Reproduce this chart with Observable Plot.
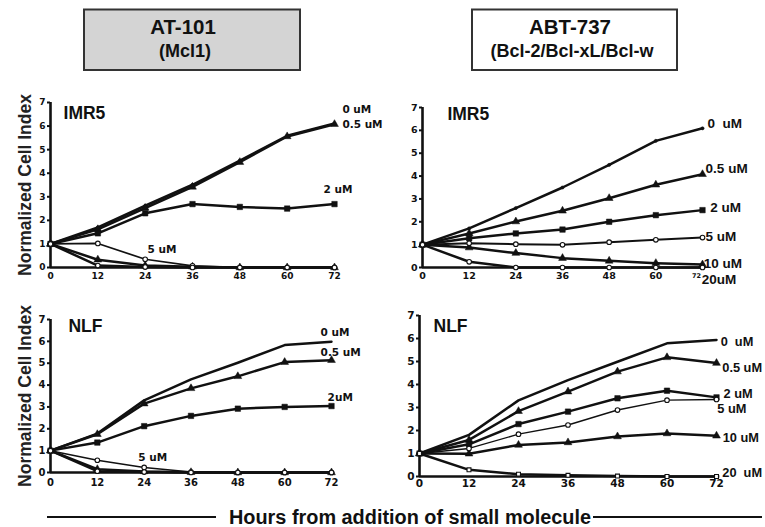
<!DOCTYPE html>
<html>
<head>
<meta charset="utf-8">
<script src="https://cdn.jsdelivr.net/npm/d3@7"></script>
<script src="https://cdn.jsdelivr.net/npm/@observablehq/plot@0.6"></script>
<style>
  body { margin: 0; background: #fff; }
  #root { position: relative; width: 765px; height: 527px; background: #fff; overflow: hidden; }
  .panel { position: absolute; }
  .panel svg { overflow: visible; }
  .panel svg text { white-space: pre; }
  #overlay { position: absolute; left: 0; top: 0; }
</style>
</head>
<body>
<div id="root"></div>
<script>
// ---------------- data ----------------
const hours = [0, 12, 24, 36, 48, 60, 72];
const doses = ["0 uM", "0.5 uM", "2 uM", "5 uM", "10 uM", "20 uM"];
const yTicks = [0, 1, 2, 3, 4, 5, 6, 7];
const xTicks = [0, 12, 24, 36, 48, 60, 72];

const drugNames = ["AT-101", "ABT-737"];
const drugTargets = ["(Mcl1)", "(Bcl-2/Bcl-xL/Bcl-w"];
const cellLines = ["IMR5", "NLF"];
const yTitle = "Normalized Cell Index";
const xTitle = "Hours from addition of small molecule";

// AT-101, IMR5 (rows follow doses)
const at101Imr5 = [
  [1, 1.70, 2.62, 3.51, 4.53, 5.59, 6.11],
  [1, 1.62, 2.52, 3.42, 4.47, 5.56, 6.08],
  [1, 1.45, 2.30, 2.69, 2.57, 2.50, 2.69],
  [1, 1.02, 0.35, 0.07, 0.00, 0.00, 0.00],
  [1, 0.33, 0.08, 0.03, 0.00, 0.00, 0.00],
  [1, 0.08, 0.02, 0.00, 0.00, 0.00, 0.00]
];
// ABT-737, IMR5
const abt737Imr5 = [
  [1, 1.71, 2.60, 3.50, 4.49, 5.54, 6.09],
  [1, 1.49, 2.01, 2.48, 3.03, 3.62, 4.08],
  [1, 1.28, 1.49, 1.66, 2.00, 2.29, 2.51],
  [1, 1.06, 1.02, 0.99, 1.11, 1.21, 1.31],
  [1, 0.87, 0.63, 0.41, 0.29, 0.19, 0.13],
  [1, 0.25, 0.00, 0.00, 0.00, 0.00, 0.00]
];
// AT-101, NLF
const at101Nlf = [
  [1, 1.78, 3.30, 4.26, 5.02, 5.83, 5.98],
  [1, 1.75, 3.15, 3.85, 4.40, 5.05, 5.14],
  [1, 1.37, 2.12, 2.59, 2.92, 3.00, 3.04],
  [1, 0.56, 0.23, 0.02, 0.00, 0.00, 0.00],
  [1, 0.15, 0.05, 0.01, 0.00, 0.00, 0.00],
  [1, 0.06, 0.02, 0.00, 0.00, 0.00, 0.00]
];
// ABT-737, NLF
const abt737Nlf = [
  [1, 1.81, 3.31, 4.19, 4.99, 5.79, 5.94],
  [1, 1.59, 2.84, 3.69, 4.56, 5.18, 4.93],
  [1, 1.40, 2.28, 2.82, 3.40, 3.73, 3.44],
  [1, 1.22, 1.84, 2.24, 2.89, 3.32, 3.35],
  [1, 0.99, 1.37, 1.48, 1.74, 1.87, 1.77],
  [1, 0.29, 0.10, 0.05, 0.02, 0.00, 0.00]
];

// curve labels as printed next to the lines
const at101Imr5Labels = ["0 uM", "0.5 uM", "2 uM", "5 uM"];
const abt737Imr5Labels = ["0  uM", "0.5 uM", "2 uM", "5 uM", "10 uM", "20uM"];
const at101NlfLabels = ["0 uM", "0.5 uM", "2uM", "5 uM"];
const abt737NlfLabels = ["0  uM", "0.5 uM", "2 uM", "5 uM", "10 uM", "20  uM"];

// ---------------- drawing ----------------
const root = document.getElementById("root");

function toRows(values) {
  const rows = [];
  values.forEach((vals, i) => vals.forEach((v, j) => rows.push({dose: doses[i], hour: hours[j], value: v})));
  return rows;
}

const markerStyle = {
  "0 uM":   {symbol: "circle",   r: 1.6, fill: "#111"},
  "0.5 uM": {symbol: "triangle", r: 2.9, fill: "#111"},
  "2 uM":   {symbol: "square",   r: 3.1, fill: "#111"},
  "5 uM":   {symbol: "circle",   r: 2.3, fill: "#fff"},
  "10 uM":  {symbol: "triangle", r: 2.9, fill: "#111"},
  "20 uM":  {symbol: "circle",   r: 2.3, fill: "#fff"}
};

function panel(cfg) {
  const rows = toRows(cfg.values);
  const marks = [];
  // axes
  marks.push(Plot.ruleY([0], {x1: 0, x2: 72.8, stroke: "#111", strokeWidth: 2.6}));
  marks.push(Plot.ruleX([0], {y1: 0, y2: 7, stroke: "#111", strokeWidth: 2.6}));
  marks.push(Plot.axisY({ticks: yTicks, tickSize: 3, tickPadding: 2, strokeWidth: 2, fontSize: cfg.tickFont, tickFormat: d => String(d)}));
  marks.push(Plot.axisX({ticks: cfg.xTicks, tickSize: 0, tickPadding: cfg.xPad, fontSize: cfg.tickFont, tickFormat: d => String(d)}));
  if (cfg.tinyLast) {
    marks.push(Plot.axisX({ticks: [72], tickSize: 0, tickPadding: cfg.xPad + 1, fontSize: 6.5, dx: -6, tickFormat: d => String(d)}));
  }
  // lines
  doses.forEach(d => {
    marks.push(Plot.line(rows.filter(r => r.dose === d), {
      x: "hour", y: "value", stroke: "#111",
      strokeWidth: d === "5 uM" ? cfg.thin : 2.5
    }));
  });
  // markers: filled first, open last
  const order = doses.filter(d => markerStyle[d].fill !== "#fff").concat(doses.filter(d => markerStyle[d].fill === "#fff"));
  order.forEach(d => {
    if (d === "0 uM" && !cfg.smallDots) return;
    const m = Object.assign({}, markerStyle[d], cfg.markerOverride && cfg.markerOverride[d] || {});
    marks.push(Plot.dot(rows.filter(r => r.dose === d), {
      x: "hour", y: "value", symbol: m.symbol, r: m.r, fill: m.fill, stroke: "#111", strokeWidth: m.fill === "#fff" ? 1.1 : 0.5
    }));
  });
  // curve labels
  marks.push(Plot.text(cfg.labels.map((t, i) => ({t, x: cfg.labelPos[i][0], y: cfg.labelPos[i][1]})), {
    x: "x", y: "y", text: "t", textAnchor: "start", lineAnchor: "middle",
    fontSize: cfg.labelFont, fontFamily: cfg.labelFamily, fontWeight: "bold", fill: "#111"
  }));
  // cell line title
  marks.push(Plot.text([{t: cfg.title, x: cfg.titlePos[0], y: cfg.titlePos[1]}], {
    x: "x", y: "y", text: "t", textAnchor: "start", lineAnchor: "middle",
    fontSize: 17.5, fontFamily: "Liberation Sans", fontWeight: "bold", fill: "#111"
  }));
  if (cfg.yTitle) {
    marks.push(Plot.text([yTitle], {
      frameAnchor: "left", dx: -25, rotate: -90, textAnchor: "middle", lineAnchor: "middle",
      fontSize: 17.5, fontFamily: "Liberation Sans", fontWeight: "bold", fill: "#222"
    }));
  }
  const svg = Plot.plot({
    width: cfg.W, height: cfg.H,
    marginLeft: cfg.mL, marginRight: cfg.mR, marginTop: cfg.mT, marginBottom: cfg.mB,
    x: {domain: [0, 72]},
    y: {domain: [0, 7]},
    style: {fontFamily: "DejaVu Sans", fontWeight: "bold", fontSize: cfg.tickFont + "px", color: "#111", background: "transparent", overflow: "visible"},
    marks
  });
  const div = document.createElement("div");
  div.className = "panel";
  div.style.left = cfg.L + "px";
  div.style.top = cfg.T + "px";
  div.appendChild(svg);
  root.appendChild(div);
}

panel({
  values: at101Imr5, L: 0, T: 85, W: 383, H: 205, mL: 50, mR: 49, mT: 17, mB: 23,
  tickFont: 9, xPad: 5, xTicks: xTicks, thin: 1.7, smallDots: true,
  labels: at101Imr5Labels, labelFont: 10.5, labelFamily: "DejaVu Sans",
  labelPos: [[74, 6.7], [74, 6.07], [69.2, 3.31], [24.6, 0.76]],
  title: cellLines[0], titlePos: [3.3, 6.53], yTitle: true
});
panel({
  values: abt737Imr5, L: 383, T: 85, W: 382, H: 205, mL: 39, mR: 63, mT: 22, mB: 23,
  tickFont: 9.5, xPad: 5, xTicks: xTicks.slice(0, 6), tinyLast: true, thin: 2.0, smallDots: true,
  labels: abt737Imr5Labels, labelFont: 13.5, labelFamily: "Liberation Sans",
  labelPos: [[73.3, 6.3], [72.8, 4.33], [74, 2.62], [72.8, 1.36], [72.3, 0.17], [71.8, -0.55]],
  title: cellLines[0], titlePos: [6.4, 6.69], yTitle: false
});
panel({
  values: at101Nlf, L: 0, T: 295, W: 385, H: 200, mL: 50, mR: 54, mT: 24, mB: 23,
  tickFont: 10, xPad: 6, xTicks: xTicks, thin: 1.5, smallDots: false,
  labels: at101NlfLabels, labelFont: 10.5, labelFamily: "DejaVu Sans",
  labelPos: [[69.2, 6.39], [69.2, 5.48], [71, 3.42], [22.5, 0.68]],
  title: cellLines[1], titlePos: [4.6, 6.67], yTitle: true
});
panel({
  values: abt737Nlf, L: 385, T: 295, W: 380, H: 200, mL: 34, mR: 49, mT: 20, mB: 19,
  tickFont: 10.5, xPad: 3, xTicks: xTicks, thin: 1.4, smallDots: false,
  markerOverride: {"20 uM": {symbol: "square", r: 2.2, fill: "#fff"}},
  labels: abt737NlfLabels, labelFont: 12.8, labelFamily: "Liberation Sans",
  labelPos: [[73, 5.87], [73.4, 4.74], [73.7, 3.61], [72.2, 2.96], [73.5, 1.70], [73.4, 0.17]],
  title: cellLines[1], titlePos: [3.4, 6.52], yTitle: false
});

// ---------------- headers & shared x title ----------------
const ov = d3.select(root).append("svg").attr("id", "overlay").attr("width", 765).attr("height", 527)
  .style("pointer-events", "none")
  .attr("font-family", "Liberation Sans").attr("font-weight", "bold").attr("fill", "#111");

const boxes = [
  {x: 84, w: 216, fill: "#d4d4d4", cx: 183},
  {x: 472, w: 205, fill: "#ffffff", cx: 570}
];
boxes.forEach((b, i) => {
  ov.append("rect").attr("x", b.x).attr("y", 9.5).attr("width", b.w).attr("height", 60.5)
    .attr("fill", b.fill).attr("stroke", "#333").attr("stroke-width", 2);
  ov.append("text").attr("x", b.cx).attr("y", 33.5).attr("text-anchor", "middle")
    .attr("font-size", 20.5).text(drugNames[i]);
  ov.append("text").attr("x", b.cx + 2).attr("y", 56.5).attr("text-anchor", "middle")
    .attr("font-size", 18).text(drugTargets[i]);
});

ov.append("line").attr("x1", 47).attr("x2", 216).attr("y1", 517).attr("y2", 517).attr("stroke", "#111").attr("stroke-width", 2);
ov.append("line").attr("x1", 593).attr("x2", 762).attr("y1", 517).attr("y2", 517).attr("stroke", "#111").attr("stroke-width", 2);
ov.append("text").attr("x", 410).attr("y", 524).attr("text-anchor", "middle").attr("font-size", 20)
  .attr("textLength", 362).attr("lengthAdjust", "spacingAndGlyphs").text(xTitle);
</script>
</body>
</html>
